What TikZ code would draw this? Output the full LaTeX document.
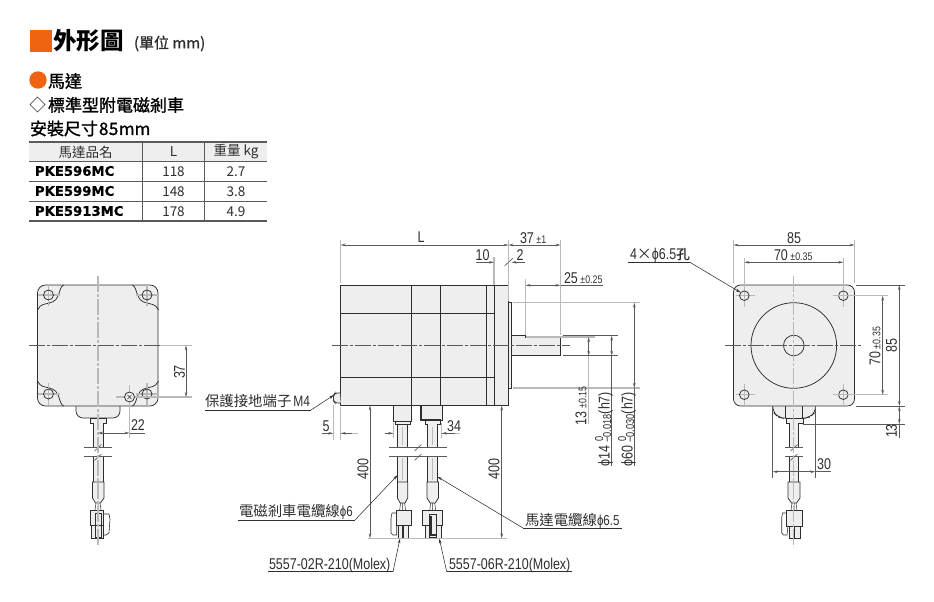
\documentclass[tikz,border=0pt]{standalone}
\usepackage{fontspec}
\setmainfont{Noto Sans CJK TC}
\newfontfamily\medf[FakeBold=1.2]{Noto Sans CJK TC}
\newfontfamily\dimf[FakeStretch=0.8]{Liberation Sans}
\newfontfamily\pkef[BoldFeatures={FakeBold=0.7}]{DejaVu Sans}
\usetikzlibrary{arrows.meta}
\definecolor{ora}{HTML}{EE6413}
\definecolor{ink}{HTML}{2E2E2E}
\definecolor{fillg}{HTML}{EEEEEE}
\definecolor{extg}{HTML}{B9B9B9}
\definecolor{dimg}{HTML}{5A5A5A}
\newcommand\fs[1]{\fontsize{#1}{#1}\selectfont}
\newcommand\tolpm[1]{\,{\fs{11}±#1}}
\newcommand\tolst[1]{\rlap{\raisebox{6.5pt}{\fs{11.5}\kern1pt 0}}\raisebox{-1.5pt}{\fs{11.5}#1}}
\tikzset{
  outl/.style={draw=ink,line width=.75pt},
  shp/.style={draw=ink,line width=.75pt,fill=fillg},
  extl/.style={draw=extg,line width=1.1pt},
  diml/.style={draw=dimg,line width=.6pt},
  both/.style={diml,{Stealth[length=5pt,width=2.6pt]}-{Stealth[length=5pt,width=2.6pt]}},
  tipend/.style={diml,-{Stealth[length=5pt,width=2.6pt]}},
  lead/.style={draw=ink,line width=.55pt,-{Stealth[length=5pt,width=2.6pt]}},
  vcl/.style={draw=extg,line width=1.1pt,dash pattern=on 16pt off 2pt on 3pt off 2pt},
  hcl/.style={draw=dimg,line width=.6pt,dash pattern=on 16pt off 2pt on 3pt off 2pt},
  dt/.style={inner sep=0pt,outer sep=0pt,text=ink,font=\dimf\fs{15.6}},
  lab/.style={inner sep=0pt,outer sep=0pt,text=ink,font=\fs{14.4}},
  head/.style={inner sep=0pt,outer sep=0pt,text=black,font=\medf\fs{17}},
  cell/.style={inner sep=0pt,outer sep=0pt,text=ink,font=\fs{13.5}},
  pke/.style={inner sep=0pt,outer sep=0pt,anchor=west,text=black,font=\pkef\bfseries\fs{13.2}},
  tabl/.style={draw=dimg,line width=.7pt},
  tabh/.style={draw=dimg,line width=1.4pt},
}
% cable pieces: x1 x2 y1 y2
\newcommand\cab[4]{\path[fill=fillg] (#1,#3) rectangle (#2,#4);\draw[outl] (#1,#3) -- (#1,#4) (#2,#3) -- (#2,#4);}
% sleeve: x1 x2, tapers to the centre xc
\newcommand\slv[3]{\draw[shp] (#1,482) -- (#2,482) -- (#2,498) -- (#3+2.5,503) -- (#3-2.5,503) -- (#1,498) -- cycle;
  \draw[outl,line width=.5pt] (#3-2,503) -- (#3-3,510.5) (#3,503) -- (#3,510.5) (#3+2,503) -- (#3+3,510.5);}
\newcommand\brk[3]{\draw[diml] (#1,447) -- (#2,447) (#1,456.5) -- (#2,456.5);
  \draw[diml] (#3-3.5,451) -- (#3+3.5,444.5) (#3-3.5,460.5) -- (#3+3.5,454);}
\newcommand\cornr[2]{\begin{scope}[xscale=#1,yscale=#2]
 \draw[outl] (-34.5,-60.5) .. controls (-38,-58.5) and (-38,-53.5) .. (-40,-49.5) .. controls (-42,-43.5) and (-48,-42.5) .. (-53,-41.5) .. controls (-57,-40.5) and (-59.5,-38.5) .. (-60.5,-35.5);
 \end{scope}}
\begin{document}
\begin{tikzpicture}[x=1pt,y=-1pt]
\useasboundingbox (0,0) rectangle (934,602);
% ---------- headings
\fill[ora] (30,30) rectangle (52,52);
\node[head,anchor=west,font=\fs{23.5}\bfseries] (title) at (53,41) {外形圖};
\node[head,anchor=west,font=\medf\fs{15},text=ink] (unit) at (134,43.5) {(單位 mm)};
\fill[ora] (38,80) circle[radius=8.7];
\node[head,anchor=west] (h1) at (48,81) {馬達};
\draw[ink,line width=.7pt] (30,104.5) -- (37.5,97) -- (45,104.5) -- (37.5,112) -- cycle;
\node[head,anchor=west] (h2) at (48,105) {標準型附電磁剎車};
\node[head,anchor=west] (h3) at (30,128.5) {安裝尺寸{\kern1pt 8\kern.5pt 5\kern.5pt mm}};
% ---------- table
\fill[fillg] (29,142) rectangle (267,161.5);
\draw[tabh] (29,142) -- (267,142);
\draw[tabh] (29,161.5) -- (267,161.5);
\draw[tabl] (29,181.5) -- (267,181.5) (29,201.5) -- (267,201.5);
\draw[tabh] (29,221) -- (267,221);
\draw[tabl] (142.5,142) -- (142.5,221) (204.5,142) -- (204.5,221);
\node[cell] (t0) at (85.5,152) {馬達品名};
\node[cell] (t1) at (173.5,152) {L};
\node[cell] (t2) at (236,152) {重量 kg};
\node[pke] (a1) at (35,171) {PKE596MC};
\node[pke] (a2) at (35,191) {PKE599MC};
\node[pke] (a3) at (35,211) {PKE5913MC};
\node[cell] (b1) at (173.5,172) {118};
\node[cell] (b2) at (173.5,191.5) {148};
\node[cell] (b3) at (173.5,211.5) {178};
\node[cell] (c1) at (236,172) {2.7};
\node[cell] (c2) at (236,191.5) {3.8};
\node[cell] (c3) at (236,211.5) {4.9};

% ---------- LEFT VIEW
\draw[shp,rounded corners=7pt] (76,404) -- (76,418) -- (120,418) -- (120,404);
\draw[shp] (90,418) rectangle (106,423);
\cab{93.5}{103}{423}{447}
\cab{93.5}{103}{456.5}{482}
\draw[shp,rounded corners=8pt] (37.5,285) rectangle (158,406);
\begin{scope}[shift={(98,345.5)}]
\cornr{1}{1}\cornr{-1}{1}\cornr{1}{-1}\cornr{-1}{-1}
\end{scope}
\foreach \hx in {48.5,147}\foreach \hy in {295,394}{
  \draw[extl] (\hx-11,\hy) -- (\hx+11,\hy) (\hx,\hy-11) -- (\hx,\hy+11);
  \draw[outl] (\hx,\hy) circle[radius=5];}
\draw[extl] (116,397) -- (192,397);
\draw[extl] (129.5,385) -- (129.5,438);
\draw[outl,fill=fillg] (129.5,397) circle[radius=5];
\draw[outl,line width=.6pt] (127.5,395) -- (131.5,399) (127.5,399) -- (131.5,395);
\brk{84}{112}{98}
\draw[shp] (92.5,482) -- (104,482) -- (104,498) -- (100.5,503) -- (95.5,503) -- (92.5,498) -- cycle;
\draw[outl,line width=.5pt] (96,503) -- (95,510) (98,503) -- (98,510) (100,503) -- (101,510);
\draw[shp] (91,525) rectangle (103,538);
\draw[shp] (90,510.5) rectangle (103,525);
\draw[outl] (95,513) rectangle (101,537);
\draw[outl,line width=.6pt] (103,514) -- (109,514) -- (110,519) -- (109,533) -- (106,535) -- (103,535);
\draw[vcl] (98,276) -- (98,546);
\draw[hcl] (29,345.5) -- (168,345.5);
\draw[extl] (160,345.5) -- (192,345.5);
\draw[both] (186,345.5) -- (186,397);
\node[dt,rotate=90] (d37) at (179.5,372) {37};
\draw[diml] (129.5,433) -- (145,433);
\draw[both] (98,433) -- (129.5,433);
\node[dt] (d22) at (138,425.5) {22};

% ---------- SIDE VIEW
\draw[shp] (508.3,302.7) rectangle (511.5,388);
\draw[shp] (340.7,285.5) rectangle (508.3,405.5);
\draw[outl] (411.7,285.5) -- (411.7,405.5) (440.3,285.5) -- (440.3,405.5) (486.7,285.5) -- (486.7,405.5) (494,285.5) -- (494,405.5);
\draw[outl] (340.7,313.3) -- (494,313.3) (340.7,377) -- (494,377);
\draw[shp] (511.5,335.7) -- (525.5,335.7) -- (525.5,337.3) -- (560.5,337.3) -- (560.5,355.7) -- (511.5,355.7) -- cycle;
\draw[shp,rounded corners=2pt] (340,393) -- (335,393) -- (333.5,395) -- (333.5,401) -- (335,403) -- (340.7,403);
\draw[hcl] (332,345.3) -- (570,345.3);
% lower connectors
\draw[shp] (393.3,405.5) rectangle (411.7,421);
\draw[shp] (395,421) rectangle (410,424.5);
\draw[shp] (420,405.5) rectangle (442,420.5);
\draw[ink,line width=1.6pt] (421,405.5) -- (421,419.5) -- (441,419.5);
\draw[shp] (425,420.5) rectangle (440,424);
\cab{397.7}{406.9}{424.5}{447}\cab{397.7}{406.9}{456.5}{482}
\cab{427.7}{437.3}{424}{447}\cab{427.7}{437.3}{456.5}{482}
\draw[extl] (402.3,427) -- (402.3,445) (402.3,458) -- (402.3,480) (432.5,427) -- (432.5,445) (432.5,458) -- (432.5,480);
\brk{389}{447}{418}
\slv{397.5}{407.7}{402.6}
\slv{427}{438.5}{432.7}
% brake connector
\draw[shp] (398,525) rectangle (408.5,538);
\draw[shp] (396.7,510.7) rectangle (411.7,525);
\draw[ink,line width=1.2pt] (403,525) -- (403,538);
\draw[outl,line width=.6pt] (396.7,513) -- (392,513) -- (391,518) -- (391,533) -- (393,535) -- (396.7,535) -- (396.7,525);
% motor connector
\draw[shp] (425,525) rectangle (441.7,538);
\draw[shp] (422.7,510.7) rectangle (442.3,525);
\draw[shp] (429,514) rectangle (436,537);
\draw[ink,line width=1.2pt] (431,516) -- (431,535) -- (436,535);
% side dimensions
\draw[extl] (340.7,240) -- (340.7,283);
\draw[extl] (508.5,240) -- (508.5,301);
\draw[extl] (560.5,240) -- (560.5,335);
\draw[extl] (494,257) -- (494,285);
\draw[extl] (525.5,279) -- (525.5,335);
\draw[both] (340.7,245) -- (508.5,245);
\draw[both] (508.5,245) -- (560.5,245);
\node[dt] (dL) at (421,237.5) {L};
\node[dt,anchor=west] (d37a) at (520,238) {37\tolpm{1}};
\draw[tipend] (476,262.3) -- (494,262.3);
\draw[tipend] (525,262.3) -- (511.5,262.3);
\draw[diml] (504.5,266) -- (513,258);
\node[dt] (d10) at (482.5,255) {10};
\node[dt] (d2) at (520,255) {2};
\draw[diml] (560.5,285.3) -- (603,285.3);
\draw[both] (525.5,285.3) -- (560.5,285.3);
\node[dt,anchor=west] (d25) at (564,278.5) {25\tolpm{0.25}};
\draw[extl] (513,302.7) -- (640,302.7) (513,388) -- (640,388);
\draw[extl] (525.5,337) -- (595,337);
\draw[extl] (588.7,340) -- (588.7,424);
\draw[diml] (563,355.7) -- (618,355.7) (563,335.7) -- (618,335.7);
\draw[both] (588.7,337) -- (588.7,355.7);
\draw[both] (611.7,335.7) -- (611.7,355.7);
\draw[diml] (611.7,355.7) -- (611.7,466);
\draw[both] (634.3,302.7) -- (634.3,388);
\draw[diml] (634.3,388) -- (634.3,466);
\node[dt,rotate=90,anchor=west] (d13) at (581,425) {13\tolpm{0.15}};
\node[dt,rotate=90,anchor=west] (dp14) at (604,466) {ϕ14\,\tolst{−0.018}(h7)};
\node[dt,rotate=90,anchor=west] (dp60) at (627,466) {ϕ60\,\tolst{−0.030}(h7)};
\draw[extl] (333.3,405) -- (333.3,440) (340.7,407) -- (340.7,440);
\draw[extl] (393.3,423) -- (393.3,438) (441.7,423) -- (441.7,438);
\draw[extl] (340.7,433.3) -- (358,433.3) (385,433.3) -- (393.3,433.3) (441.7,433.3) -- (460,433.3);
\draw[tipend] (322,433.3) -- (333.3,433.3);
\draw[tipend] (352,433.3) -- (340.7,433.3);
\draw[tipend] (385,433.3) -- (393.3,433.3);
\draw[tipend] (455,433.3) -- (441.7,433.3);
\node[dt] (d5) at (326,426) {5};
\node[dt] (d34) at (454,426) {34};
\draw[extl] (368,538.3) -- (507,538.3);
\draw[both] (370,405.5) -- (370,538.3);
\draw[both] (501.7,405.5) -- (501.7,538.3);
\node[dt,rotate=90] (d400a) at (363,469) {400};
\node[dt,rotate=90] (d400b) at (494,469) {400};
% labels and leaders
\node[lab,anchor=west] (lterm) at (205,401.5) {保護接地端子\kern2pt{\dimf\fs{15}M4}};
\coordinate (termk) at (311,410);
\coordinate (termt) at (334,395);
\draw[draw=ink,line width=.55pt] (205,410) -- (termk);
\draw[lead] (termk) -- (termt);
\node[lab,anchor=west] (lbrake) at (239,512) {電磁剎車電纜線{\dimf ϕ6}};
\coordinate (brk) at (355,520);
\coordinate (brt) at (397.7,475);
\draw[draw=ink,line width=.55pt] (238,520) -- (brk);
\draw[lead] (brk) -- (brt);
\node[lab,anchor=west] (lmotor) at (525,520.5) {馬達電纜線{\dimf ϕ6.5}};
\coordinate (mok) at (523,528);
\coordinate (mot) at (437.3,476.7);
\draw[draw=ink,line width=.55pt] (mok) -- (622,528);
\draw[lead] (mok) -- (mot);
\node[dt,anchor=west] (l02) at (269,565) {5557-02R-210(Molex)};
\coordinate (k02) at (393,571.7);
\coordinate (t02) at (400,538.5);
\draw[draw=ink,line width=.55pt] (268,571.7) -- (k02);
\draw[lead] (k02) -- (t02);
\node[dt,anchor=west] (l06) at (449,565) {5557-06R-210(Molex)};
\coordinate (k06) at (446.7,571.7);
\coordinate (t06) at (439.3,538.5);
\draw[draw=ink,line width=.55pt] (k06) -- (572,571.7);
\draw[lead] (k06) -- (t06);

% ---------- RIGHT VIEW
\draw[shp,rounded corners=6pt] (772.7,404) -- (772.7,412) -- (778,417) -- (784,418.5) -- (804,418.5) -- (810,417) -- (815.7,412) -- (815.7,404);
\draw[outl,line width=.6pt] (785.7,406) -- (785.7,418) (802.3,406) -- (802.3,418);
\draw[shp] (786,418.5) rectangle (803,423);
\cab{789.3}{798.7}{423}{447}\cab{789.3}{798.7}{456.5}{482}
\brk{785}{803}{794}
\draw[shp] (788,482) -- (800,482) -- (800,498) -- (796.5,503) -- (791.5,503) -- (788,498) -- cycle;
\draw[outl,line width=.5pt] (792,503) -- (791,510.5) (794,503) -- (794,510.5) (796,503) -- (797,510.5);
\draw[shp] (789,526) rectangle (800,538);
\draw[shp] (786.7,510.7) rectangle (802,526);
\draw[ink,line width=1pt] (794,526) -- (794,538);
\draw[outl,line width=.6pt] (786.7,513) -- (782.5,513) -- (781.7,518) -- (781.7,533) -- (783.5,535) -- (787,535) -- (788,526);
\draw[shp,rounded corners=7pt] (733.5,285) rectangle (854.5,406);
\draw[outl] (793.8,345.5) circle[radius=42.8];
\draw[outl] (793.8,345.5) circle[radius=10.3];
\foreach \hx in {744.3,843.3}\foreach \hy in {295.7,394.7}{
  \draw[extl] (\hx-8,\hy) -- (\hx+11,\hy) (\hx,\hy-11) -- (\hx,\hy+11);
  \draw[outl] (\hx,\hy) circle[radius=4.8];}
\draw[vcl] (793.8,276) -- (793.8,547);
\draw[hcl] (725,345.5) -- (863,345.5);
\draw[extl] (733.5,240) -- (733.5,283) (854.5,240) -- (854.5,283);
\draw[extl] (744.3,258) -- (744.3,285) (843.3,258) -- (843.3,285);
\draw[both] (733.5,245) -- (854.5,245);
\draw[both] (744.3,262.3) -- (843.3,262.3);
\node[dt] (d85a) at (794,238) {85};
\node[dt,anchor=west] (d70a) at (774,255.5) {70\tolpm{0.35}};
\draw[extl] (833,295.7) -- (888,295.7) (833,394.7) -- (888,394.7);
\draw[diml] (856,285) -- (905,285) (856,406) -- (905,406) (803,424) -- (905,424);
\draw[both] (882.7,295.7) -- (882.7,394.7);
\draw[both] (899.3,285) -- (899.3,406);
\draw[both] (899.3,406) -- (899.3,424);
\draw[diml] (899.3,424) -- (899.3,438);
\node[dt,rotate=90,anchor=west] (d70b) at (875,365.5) {70\tolpm{0.35}};
\node[dt,rotate=90] (d85b) at (891.5,345.5) {85};
\node[dt,rotate=90] (d13b) at (891.5,431) {13};
\draw[diml] (772.7,406) -- (772.7,478) (815.3,406) -- (815.3,478);
\draw[diml] (815.3,471.7) -- (831,471.7);
\draw[both] (772.7,471.7) -- (815.3,471.7);
\node[dt] (d30) at (824,464) {30};
\node[dt,anchor=west] (lhole) at (630,255) {4{\rmfamily\fs{15}×}ϕ6.5{\medf\fs{13.5}孔}};
\coordinate (hk) at (690,262.3);
\coordinate (ht) at (740.5,292.5);
\draw[draw=ink,line width=.55pt] (628,262.3) -- (hk);
\draw[lead] (hk) -- (ht);
\end{tikzpicture}
\end{document}
